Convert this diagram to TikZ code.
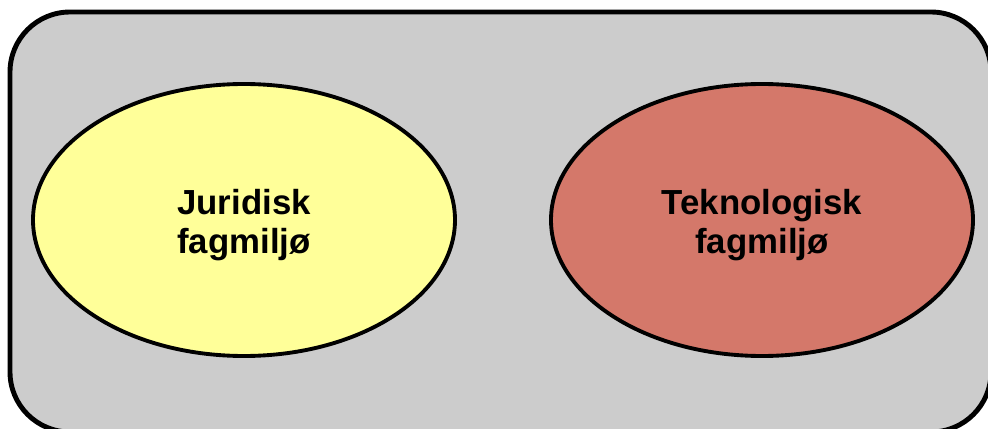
\documentclass[tikz,border=0pt]{standalone}
\usepackage{fontspec}
\setmainfont{Liberation Sans}
\usepackage{xcolor}
\definecolor{fagbg}{RGB}{204, 204, 204}
\definecolor{fagyellow}{RGB}{255, 255, 153}
\definecolor{fagred}{RGB}{212, 120, 106}
\usetikzlibrary{shapes.geometric}

\begin{document}
\begin{tikzpicture}[x=0.02cm, y=-0.02cm]

% === Parámetros ===
\def\rx{211}   % semieje horizontal
\def\ry{136}   % semieje vertical

\tikzset{
    miljo/.style={
        ellipse, draw=black, line width=2.2pt,
        minimum width=2*\rx*0.02cm, minimum height=2*\ry*0.02cm
    },
    miljotext/.style={
        font=\fontsize{19.8}{22.2}\selectfont\bfseries, align=center
    }
}

% === Marco ===
\useasboundingbox (0,0) rectangle (988,429);
\clip (0,0) rectangle (988,429);
\draw[fill=fagbg, line width=2.8pt, rounded corners=1.2cm] (10,12) rectangle (991,432);

% === Fagmiljø ===
\node[miljo, fill=fagyellow] (jur) at (244,220) {};
\node[miljo, fill=fagred] (tek) at (762,220) {};

% Etiquetas (un poco más abajo del centro)
\node[miljotext] (jurtxt) at ([yshift=-0.1cm]jur.center) {Juridisk\\fagmiljø};
\node[miljotext] (tektxt) at ([yshift=-0.1cm]tek.center) {Teknologisk\\fagmiljø};

\end{tikzpicture}
\end{document}
